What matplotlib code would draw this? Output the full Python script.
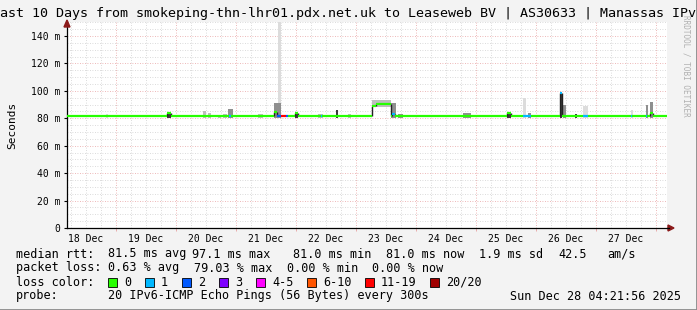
import matplotlib
matplotlib.use("Agg")
import matplotlib.pyplot as plt
from matplotlib.patches import Rectangle, Polygon

# ---------------- data (x in days since 18 Dec 00:00) ----------------
x_start, x_end = 0.182, 10.182
day_labels = ['18 Dec', '19 Dec', '20 Dec', '21 Dec', '22 Dec',
              '23 Dec', '24 Dec', '25 Dec', '26 Dec', '27 Dec']
y_ticks = [0, 20, 40, 60, 80, 100, 120, 140]
y_tick_labels = ['0', '20 m', '40 m', '60 m', '80 m', '100 m', '120 m', '140 m']

median_base = 81.5
# median events: start, end, value, loss-colour index
ev_start = [1.85, 2.88, 3.63, 3.68, 3.75, 3.83, 3.98, 4.42, 5.27, 5.33, 5.60, 7.52, 7.78, 8.40, 8.78, 9.58, 9.83, 9.90]
ev_end   = [1.92, 2.92, 3.68, 3.75, 3.83, 3.87, 4.03, 4.44, 5.33, 5.58, 5.65, 7.58, 7.92, 8.43, 8.87, 9.60, 9.85, 9.95]
ev_value = [83.5, 81.5, 84.7, 81.5, 81.5, 81.5, 83.5, 81.5, 89.2, 90.4, 83.0, 83.5, 81.5, 98.5, 81.5, 81.5, 81.5, 84.0]
ev_loss  = [0,    1,    0,    2,    6,    2,    0,    1,    0,    0,    1,    0,    1,    1,    1,    1,    1,    0]

# smoke columns: start, end, low, high, shade level (0 light .. 3 dark)
sm_start = [0.83, 1.85, 2.45, 2.53, 2.70, 2.78, 2.87, 3.37, 3.63, 3.70, 3.98, 4.37, 4.67, 4.87,
            5.27, 5.58, 5.70, 6.78, 7.52, 7.78, 7.87, 8.40, 8.45, 8.65, 8.78, 9.58, 9.83, 9.90]
sm_end   = [0.87, 1.92, 2.50, 2.58, 2.75, 2.85, 2.95, 3.45, 3.75, 3.75, 4.03, 4.45, 4.70, 4.92,
            5.58, 5.67, 5.78, 6.92, 7.58, 7.83, 7.92, 8.43, 8.50, 8.68, 8.87, 9.62, 9.87, 9.95]
sm_low   = [80.5, 80.0, 80.5, 80.5, 80.5, 80.5, 80.0, 80.5, 80.0, 91.0, 80.0, 80.5, 80.0, 80.5,
            88.0, 80.0, 80.5, 80.5, 80.0, 80.5, 80.5, 80.0, 80.5, 80.0, 80.5, 80.0, 80.5, 80.0]
sm_high  = [83.0, 84.5, 85.0, 83.5, 82.5, 83.0, 87.0, 83.0, 91.0, 152.0, 84.5, 83.0, 86.0, 83.0,
            93.0, 91.0, 83.0, 84.0, 84.5, 95.0, 84.0, 98.5, 90.0, 83.0, 89.0, 86.0, 90.0, 92.0]
sm_shade = [0, 3, 1, 1, 1, 1, 2, 1, 2, 0, 3, 1, 3, 1,
            1, 2, 2, 2, 3, 0, 2, 3, 2, 3, 0, 0, 2, 2]

loss_labels = ['0', '1', '2', '3', '4-5', '6-10', '11-19', '20/20']
loss_colors = ['#26ff00', '#00b8ff', '#0059ff', '#7e00ff', '#ff00ff', '#ff5500', '#ff0000', '#a00000']
shade_colors = ['#dcdcdc', '#bdbdbd', '#8f8f8f', '#3a3a3a']

title = 'ast 10 Days from smokeping-thn-lhr01.pdx.net.uk to Leaseweb BV | AS30633 | Manassas IPv'
rtt_parts = [('median rtt:', 16), ('81.5 ms avg', 108), ('97.1 ms max', 192), ('81.0 ms min', 293),
             ('81.0 ms now', 386), ('1.9 ms sd', 479), ('42.5', 558), ('am/s', 607)]
loss_parts = [('packet loss:', 16), ('0.63 % avg', 108), ('79.03 % max', 194),
              ('0.00 % min', 287), ('0.00 % now', 372)]
swatch_x = [108, 145, 182, 219, 256, 307, 365, 430]
probe_text = '20 IPv6-ICMP Echo Pings (56 Bytes) every 300s'
date_text = 'Sun Dec 28 04:21:56 2025'

# ---------------- figure ----------------
W, H = 697, 310
fig = plt.figure(figsize=(W / 100, H / 100), dpi=100)
fig.patch.set_facecolor('#f3f3f3')
mono = 'DejaVu Sans Mono'

L, R, T, B = 67, 667, 22, 228
ax = fig.add_axes([L / W, 1 - B / H, (R - L) / W, (B - T) / H])
ax.set_facecolor('white')
ax.set_xlim(x_start, x_end)
ax.set_ylim(0, (B - T) / 1.3714)

# grid
for d in range(1, 11):
    for q in (0.25, 0.5, 0.75):
        xx = d - 1 + q
        if x_start < xx < x_end:
            ax.axvline(xx, color='#cfcfcf', lw=0.6, ls=(0, (1, 2)), zorder=0)
for v in range(5, 151, 5):
    if v % 20:
        ax.axhline(v, color='#cfcfcf', lw=0.6, ls=(0, (1, 2)), zorder=0)
for d in range(1, 11):
    ax.axvline(d, color='#e8a0a0', lw=0.6, ls=(0, (1, 2)), zorder=0.5)
for v in y_ticks[1:]:
    ax.axhline(v, color='#e8a0a0', lw=0.6, ls=(0, (1, 2)), zorder=0.5)

# smoke
for s, e, lo, hi, sh in zip(sm_start, sm_end, sm_low, sm_high, sm_shade):
    ax.add_patch(Rectangle((s, lo), e - s, hi - lo, color=shade_colors[sh], lw=0, zorder=1))

# median segments (baseline filled between events)
segs = []
t = x_start
for s, e, v, l in zip(ev_start, ev_end, ev_value, ev_loss):
    if s > t:
        segs.append((t, s, median_base, 0))
    segs.append((s, e, v, l))
    t = e
if t < x_end:
    segs.append((t, x_end, median_base, 0))
for (s0, e0, v0, l0), (s1, e1, v1, l1) in zip(segs[:-1], segs[1:]):
    if abs(v1 - v0) > 0.6:
        ax.plot([e0, e0], [v0, v1], color='#222222', lw=1.0, zorder=2, solid_capstyle='butt')
for s, e, v, l in segs:
    ax.plot([s, e], [v, v], color=loss_colors[l], lw=1.6, zorder=3, solid_capstyle='butt')

# axes
for sp in ('top', 'right'):
    ax.spines[sp].set_visible(False)
ax.spines['left'].set_linewidth(0.9)
ax.spines['bottom'].set_linewidth(0.9)
ax.set_yticks(y_ticks)
ax.set_yticklabels(y_tick_labels, fontfamily=mono, fontsize=7)
ax.set_xticks([d + 0.5 for d in range(10)])
ax.set_xticklabels(day_labels, fontfamily=mono, fontsize=7)
ax.tick_params(axis='x', length=0, pad=4)
ax.tick_params(axis='y', length=2, pad=3)
ax.set_xticks(list(range(1, 11)), minor=True)
ax.tick_params(axis='x', which='minor', length=2, color='#e8a0a0')
ax.set_ylabel('Seconds', fontfamily=mono, fontsize=8, labelpad=10)

# arrows
fig.patches.append(Polygon([[(L - 3) / W, 1 - 27 / H], [(L + 3) / W, 1 - 27 / H], [L / W, 1 - 20 / H]],
                           closed=True, transform=fig.transFigure, color='#8b1a1a'))
fig.lines.append(plt.Line2D([R / W, 669 / W], [1 - B / H, 1 - B / H], transform=fig.transFigure,
                            color='black', lw=0.9))
fig.patches.append(Polygon([[668 / W, 1 - (B - 3) / H], [668 / W, 1 - (B + 3) / H], [674 / W, 1 - B / H]],
                           closed=True, transform=fig.transFigure, color='#8b1a1a'))

# title
fig.text(0 / W, 1 - 14 / H, title, fontfamily=mono, fontsize=9.6, va='center', ha='left')
fig.text(686 / W, 1 - 15 / H, 'RRDTOOL / TOBI OETIKER', fontfamily=mono, fontsize=5.5,
         color='#b0b0b0', rotation=270, va='top', ha='center')

# stats
fs = 8.5
for txt, x in rtt_parts:
    fig.text(x / W, 1 - 254 / H, txt, fontfamily=mono, fontsize=fs, va='center')
for txt, x in loss_parts:
    fig.text(x / W, 1 - 268 / H, txt, fontfamily=mono, fontsize=fs, va='center')
fig.text(16 / W, 1 - 282 / H, 'loss color:', fontfamily=mono, fontsize=fs, va='center')
for x, c, lab in zip(swatch_x, loss_colors, loss_labels):
    fig.patches.append(Rectangle((x / W, 1 - 286.5 / H), 8.5 / W, 8.5 / H, transform=fig.transFigure,
                                 facecolor=c, edgecolor='black', lw=0.6))
    fig.text((x + 16) / W, 1 - 282 / H, lab, fontfamily=mono, fontsize=fs, va='center')
fig.text(16 / W, 1 - 296 / H, 'probe:', fontfamily=mono, fontsize=fs, va='center')
fig.text(108 / W, 1 - 296 / H, probe_text, fontfamily=mono, fontsize=fs, va='center')
fig.text(681 / W, 1 - 296 / H, date_text, fontfamily=mono, fontsize=fs, va='center', ha='right')

# frame
fig.lines.append(plt.Line2D([0, 1], [0.5 / H, 0.5 / H], transform=fig.transFigure, color='#8a8a8a', lw=2))
fig.lines.append(plt.Line2D([1 - 0.5 / W, 1 - 0.5 / W], [0, 1], transform=fig.transFigure, color='#8a8a8a', lw=2))

fig.savefig('out.png', dpi=100, facecolor=fig.get_facecolor())
